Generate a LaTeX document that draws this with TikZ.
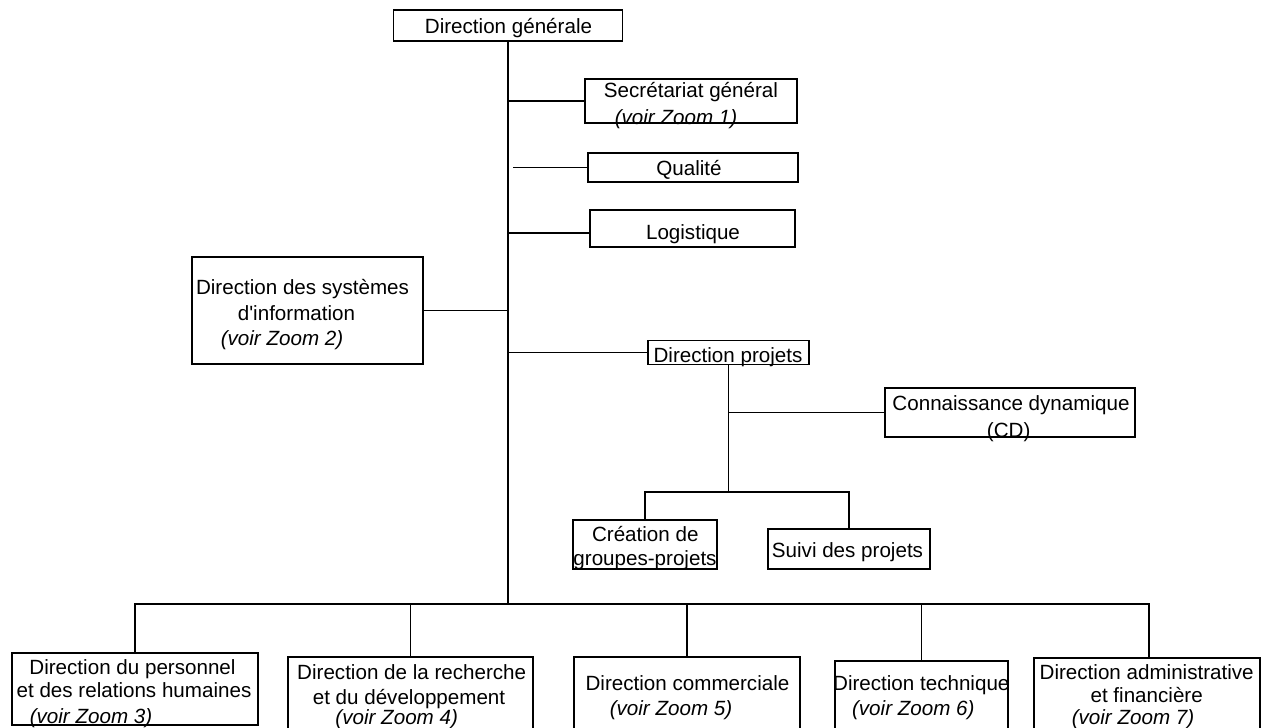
\documentclass[tikz,border=0pt]{standalone}
\usepackage{fontspec}
\setmainfont{Liberation Sans}[Ligatures=TeXOff]
\begin{document}
\begin{tikzpicture}[x=1pt,y=-1pt,
  box/.style={draw=black, line width=1.2pt, inner sep=0pt, fill=none},
  txt/.style={inner sep=0pt, text height=14.8pt, text depth=0pt, anchor=center, font=\fontsize{20.6}{25}\selectfont},
  itxt/.style={txt, font=\fontsize{20.6}{25}\selectfont\itshape},
  link/.style={draw=black, line width=1.2pt}]
\useasboundingbox[fill=white] (0,0) rectangle (1261,728);

% boxes
\node[box, minimum width=229pt, minimum height=31pt] (dg) at (508,25.5) {};
\node[box, minimum width=212pt, minimum height=44pt] (sg) at (691,101) {};
\node[box, minimum width=210pt, minimum height=29pt] (qu) at (693,167.5) {};
\node[box, minimum width=205pt, minimum height=37pt] (lo) at (692.5,228.5) {};
\node[box, minimum width=231pt, minimum height=107pt] (dsi) at (307.5,310.5) {};
\node[box, minimum width=161pt, minimum height=23.5pt] (dp) at (728.5,352.5) {};
\node[box, minimum width=250pt, minimum height=49pt] (cd) at (1010,412.5) {};
\node[box, minimum width=144pt, minimum height=49pt] (cg) at (645,544.5) {};
\node[box, minimum width=162pt, minimum height=40pt] (sp) at (849,549) {};
\node[box, minimum width=246pt, minimum height=72pt] (b1) at (135,689) {};
\node[box, minimum width=245pt, minimum height=78pt] (b2) at (410.5,696) {};
\node[box, minimum width=226pt, minimum height=78pt] (b3) at (687,696) {};
\node[box, minimum width=173pt, minimum height=74pt] (b4) at (921.5,698) {};
\node[box, minimum width=226pt, minimum height=77pt] (b5) at (1147,696.5) {};

% texts
\node[txt] (dg-t) at (508.5,26.5) {Direction générale};
\node[txt] (sg-t1) at (691,90) {Secrétariat général};
\node[itxt] (sg-t2) at (676,117) {(voir Zoom 1)};
\node[txt] (qu-t) at (689,168) {Qualité};
\node[txt] (lo-t) at (693,232) {Logistique};
\node[txt] (dsi-t1) at (302.5,286.7) {Direction des systèmes};
\node[txt] (dsi-t2) at (296.5,313) {d'information};
\node[itxt] (dsi-t3) at (282,338) {(voir Zoom 2)};
\node[txt] (dp-t) at (728,355) {Direction projets};
\node[txt] (cd-t1) at (1011,403.3) {Connaissance dynamique};
\node[txt] (cd-t2) at (1008.7,430) {(CD)};
\node[txt] (cg-t1) at (645.3,534.3) {Création de};
\node[txt] (cg-t2) at (645,558.3) {groupes-projets};
\node[txt] (sp-t) at (847.5,550) {Suivi des projets};
\node[txt] (b1-t1) at (132.5,666.7) {Direction du personnel};
\node[txt] (b1-t2) at (134,690) {et des relations humaines};
\node[itxt] (b1-t3) at (91,716) {(voir Zoom 3)};
\node[txt] (b2-t1) at (411.7,671.7) {Direction de la recherche};
\node[txt] (b2-t2) at (409,696.7) {et du développement};
\node[itxt] (b2-t3) at (396.7,717) {(voir Zoom 4)};
\node[txt] (b3-t1) at (687.5,683.3) {Direction commerciale};
\node[itxt] (b3-t2) at (671,708.3) {(voir Zoom 5)};
\node[txt] (b4-t1) at (921.3,683.3) {Direction technique};
\node[itxt] (b4-t2) at (913.3,708.3) {(voir Zoom 6)};
\node[txt] (b5-t1) at (1146.7,671.7) {Direction administrative};
\node[txt] (b5-t2) at (1146.7,695) {et financière};
\node[itxt] (b5-t3) at (1133,717) {(voir Zoom 7)};

% junction coordinates
\coordinate (bus) at (508,604);
\coordinate (bus5) at (1149,604);
\coordinate (qj) at (513,167.5);
\coordinate (loj) at (508,233);
\coordinate (br) at (728.5,492);

% connectors
\draw[link] (dg.south) -- (bus);
\draw[link] (sg.west -| dg.south) -- (sg.west);
\draw[link] (qj) -- (qu.west);
\draw[link] (loj) -- (loj -| lo.west);
\draw[link] (dsi.east) -- (dsi.east -| dg.south);
\draw[link] (dp.west -| dg.south) -- (dp.west);
\draw[link] (dp.south) -- (br);
\draw[link] (br |- cd.west) -- (cd.west);
\draw[link] (cg.north) |- (br) -| (sp.north);
\draw[link] (b1.north) |- (bus) -- (bus5) -- (bus5 |- b5.north);
\draw[link] (b2.north) -- (b2.north |- bus);
\draw[link] (b3.north) -- (b3.north |- bus);
\draw[link] (b4.north) -- (b4.north |- bus);
\end{tikzpicture}
\end{document}
